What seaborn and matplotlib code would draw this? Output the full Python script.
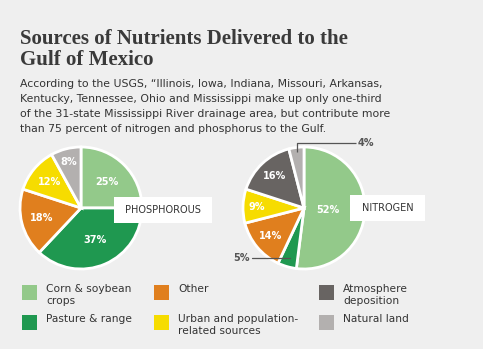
import numpy as np
import matplotlib
matplotlib.use("Agg")
import matplotlib.pyplot as plt
from matplotlib.patches import Rectangle
import seaborn as sns

# ---------------- data ----------------
source_keys = ["corn", "pasture", "other", "urban", "atmos", "natural"]
source_labels = ["Corn & soybean\ncrops", "Pasture & range", "Other",
                 "Urban and population-\nrelated sources", "Atmosphere\ndeposition",
                 "Natural land"]
phos_sources = ["corn", "pasture", "other", "urban", "natural"]
phos_values = [25, 37, 18, 12, 8]
nitro_sources = ["corn", "pasture", "other", "urban", "atmos", "natural"]
nitro_values = [52, 5, 14, 9, 16, 4]

title_lines = ["Sources of Nutrients Delivered to the", "Gulf of Mexico"]
body_lines = [
    "According to the USGS, \u201cIllinois, Iowa, Indiana, Missouri, Arkansas,",
    "Kentucky, Tennessee, Ohio and Mississippi make up only one-third",
    "of the 31-state Mississippi River drainage area, but contribute more",
    "than 75 percent of nitrogen and phosphorus to the Gulf.",
]

# ---------------- style ----------------
sns.set_style("white")
BG = "#efefef"
palette = dict(zip(source_keys, ["#93c98a", "#1f9850", "#e07f1e", "#f6dc00",
                                 "#686462", "#b3b0af"]))
TXT = "#333333"
plt.rcParams["font.family"] = ["DejaVu Sans"]

W, H = 483, 349
fig = plt.figure(figsize=(W / 100, H / 100), dpi=100, facecolor=BG)
ax = fig.add_axes([0, 0, 1, 1])
ax.set_facecolor(BG)


def Y(y):
    return H - y


# title
for yb, line in zip([44, 65], title_lines):
    ax.text(20, Y(yb), line, fontsize=15, fontweight="bold",
            family="Liberation Serif", color="#3a3a3a", va="baseline", ha="left")
# body
for yb, line in zip([87, 102, 117, 131.5], body_lines):
    ax.text(20, Y(yb), line, fontsize=7.85, color=TXT, va="baseline", ha="left")

wp = dict(edgecolor="white", linewidth=2)

# phosphorus pie
pw, _ = ax.pie(phos_values, colors=[palette[k] for k in phos_sources],
               startangle=90, counterclock=False, center=(81, Y(208)),
               radius=61, wedgeprops=wp)
phos_dist = [0.6, 0.58, 0.66, 0.66, 0.78]
for w, v, d in zip(pw, phos_values, phos_dist):
    a = np.deg2rad((w.theta1 + w.theta2) / 2)
    ax.text(w.center[0] + w.r * d * np.cos(a), w.center[1] + w.r * d * np.sin(a),
            f"{v}%", color="white", fontsize=7, fontweight="bold",
            ha="center", va="center")

# nitrogen pie
nw, _ = ax.pie(nitro_values, colors=[palette[k] for k in nitro_sources],
               startangle=90, counterclock=False, center=(304, Y(208)),
               radius=61, wedgeprops=wp)
nitro_dist = [0.4, None, 0.71, 0.77, 0.71, None]
for w, v, d in zip(nw, nitro_values, nitro_dist):
    if d is None:
        continue
    a = np.deg2rad((w.theta1 + w.theta2) / 2)
    ax.text(w.center[0] + w.r * d * np.cos(a), w.center[1] + w.r * d * np.sin(a),
            f"{v}%", color="white", fontsize=7, fontweight="bold",
            ha="center", va="center")

# callouts for small nitrogen slices
LC = "#555555"
w4 = nw[5]
a = np.deg2rad((w4.theta1 + w4.theta2) / 2)
x0 = w4.center[0] + w4.r * 0.93 * np.cos(a)
y0 = w4.center[1] + w4.r * 0.93 * np.sin(a)
ax.plot([x0, x0, 356], [y0, Y(142.5), Y(142.5)],
        color=LC, lw=0.9, solid_capstyle="butt")
ax.text(358, Y(142.5), f"{nitro_values[5]}%", color=LC, fontsize=7,
        fontweight="bold", ha="left", va="center")
w5 = nw[1]
a = np.deg2rad((w5.theta1 + w5.theta2) / 2)
x1 = w5.center[0] + w5.r * 0.85 * np.cos(a)
y1 = w5.center[1] + w5.r * 0.85 * np.sin(a)
ax.plot([x1, 252], [y1, y1], color=LC, lw=0.9)
ax.text(250, y1, f"{nitro_values[1]}%", color=LC, fontsize=7,
        fontweight="bold", ha="right", va="center")

# label boxes
ax.add_patch(Rectangle((114, Y(223)), 98, 26, facecolor="white", edgecolor="none", zorder=5))
ax.text(163, Y(210), "PHOSPHOROUS", fontsize=7, color=TXT, ha="center", va="center", zorder=6)
ax.add_patch(Rectangle((350, Y(221)), 75, 26, facecolor="white", edgecolor="none", zorder=5))
ax.text(387.5, Y(208), "NITROGEN", fontsize=7, color=TXT, ha="center", va="center", zorder=6)

# legend
col_x = [22, 154, 319]
row_y = [285, 315]
for i, (k, lab) in enumerate(zip(source_keys, source_labels)):
    cx = col_x[i // 2]
    ry = row_y[i % 2]
    ax.add_patch(Rectangle((cx, Y(ry + 14.5)), 15, 14.5, facecolor=palette[k],
                           edgecolor="none"))
    ax.text(cx + 24, Y(ry - 1.5), lab, fontsize=7.7, color=TXT, ha="left",
            va="top", linespacing=1.25)

ax.set_xlim(0, W)
ax.set_ylim(0, H)
ax.set_aspect("equal")
ax.axis("off")

fig.savefig("out.png", dpi=100, facecolor=BG)
